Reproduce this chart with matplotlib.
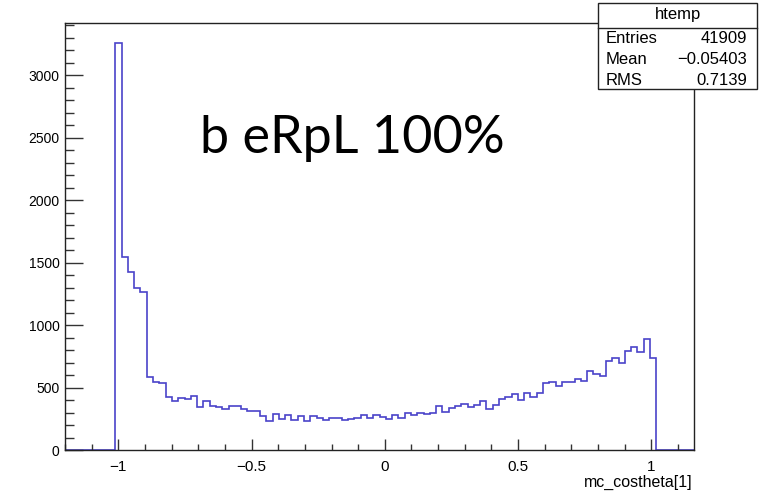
import numpy as np
import matplotlib.pyplot as plt
from matplotlib.patches import Rectangle
from matplotlib.lines import Line2D
from matplotlib.ticker import MultipleLocator

# Histogram binning (100 bins, as TTree::Draw makes for htemp)
x_min, x_max = -1.2, 1.16
n_bins = 100

# Bin contents, left to right
counts = [
    0, 0, 0, 0, 0, 0, 0, 0,
    3255, 1545, 1427, 1293, 1261, 585, 547, 535, 423, 390,
    415, 408, 435, 347, 390, 355, 343, 327, 352, 352,
    330, 312, 310, 272, 236, 288, 245, 283, 240, 275,
    235, 275, 259, 237, 259, 259, 237, 245, 259, 283,
    253, 277, 267, 248, 283, 259, 293, 278, 296, 288,
    299, 350, 304, 333, 353, 365, 342, 362, 390, 327,
    360, 408, 427, 445, 400, 453, 427, 453, 533, 547,
    512, 541, 541, 568, 552, 632, 605, 595, 712, 733,
    693, 795, 827, 781, 885, 733,
    0, 0, 0, 0, 0, 0,
]

x_ticks = [-1, -0.5, 0, 0.5, 1]
x_tick_labels = ["\u22121", "\u22120.5", "0", "0.5", "1"]
y_ticks = [0, 500, 1000, 1500, 2000, 2500, 3000]

hist_name = "htemp"
stat_names = ["Entries", "Mean", "RMS"]
stat_values = ["41909", "\u22120.05403", "0.7139"]
x_title = "mc_costheta[1]"
label_text = "b eRpL 100%"

edges = np.linspace(x_min, x_max, n_bins + 1)

plt.rcParams["font.family"] = ["Liberation Sans", "DejaVu Sans"]

fig = plt.figure(figsize=(7.62, 4.93), dpi=100)
ax = fig.add_axes([0.0853, 0.0872, 0.8255, 0.8661])

ax.stairs(counts, edges, color="#4a43c9", lw=1.2, baseline=0)

ax.set_xlim(x_min, x_max)
ax.set_ylim(0, max(counts) * 1.05)

ax.set_xticks(x_ticks)
ax.set_xticklabels(x_tick_labels)
ax.set_yticks(y_ticks)
ax.xaxis.set_minor_locator(MultipleLocator(0.1))
ax.yaxis.set_minor_locator(MultipleLocator(100))

ax.tick_params(axis="both", which="both", direction="in", top=False, right=False,
               color="#333333", width=1.0)
ax.tick_params(axis="x", which="major", length=8, pad=7, labelsize=11)
ax.tick_params(axis="x", which="minor", length=4.5)
ax.tick_params(axis="y", which="major", length=13, pad=4, labelsize=10)
ax.tick_params(axis="y", which="minor", length=6.5)
for s in ax.spines.values():
    s.set_linewidth(1.0)
    s.set_color("#222222")

fig.text(693 / 762, 0.022, x_title, ha="right", va="center", fontsize=11.5)

ax.text(0.2146, 0.6956, label_text, transform=ax.transAxes, ha="left",
        va="baseline", fontsize=37.5, family=["Lato", "DejaVu Sans"])

# Stats box
bx0, bx1 = 598 / 762, 757 / 762
by0, by1 = 1 - 89 / 493, 1 - 3 / 493
fig.add_artist(Rectangle((bx0, by0), bx1 - bx0, by1 - by0, transform=fig.transFigure,
                         facecolor="white", edgecolor="#222222", lw=1.0, zorder=10))
head_y = 1 - 27.5 / 493
fig.add_artist(Line2D([bx0, bx1], [head_y, head_y], transform=fig.transFigure,
                      color="#222222", lw=1.0, zorder=11))
fig.text((bx0 + bx1) / 2, 1 - 15 / 493, hist_name, ha="center", va="center",
         fontsize=12, zorder=12)
for i, (name, val) in enumerate(zip(stat_names, stat_values)):
    yy = 1 - (38.5 + 21 * i) / 493
    fig.text(606 / 762, yy, name, ha="left", va="center", fontsize=12, zorder=12)
    fig.text(747 / 762, yy, val, ha="right", va="center", fontsize=12, zorder=12)

fig.savefig("out.png", dpi=100)
